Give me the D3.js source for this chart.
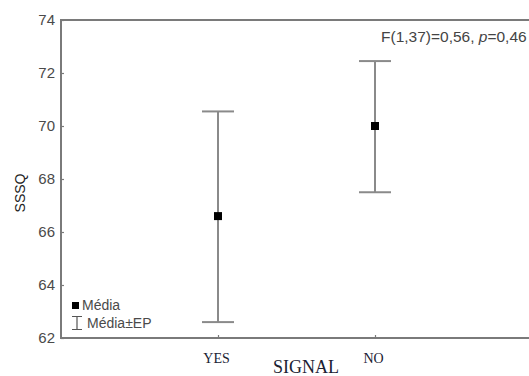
<!DOCTYPE html>
<html><head><meta charset="utf-8">
<script src="https://cdnjs.cloudflare.com/ajax/libs/d3/7.8.5/d3.min.js"></script>
<style>html,body{margin:0;padding:0;background:#fff;overflow:hidden}</style>
</head><body>
<svg id="c" width="529" height="376"></svg>
<script>
const categories = ["YES", "NO"];
const means = [66.6, 70.0];
const upper = [70.55, 72.45];
const lower = [62.6, 67.5];
const yTicks = [62, 64, 66, 68, 70, 72, 74];

const svg = d3.select("#c");
const L = 61, T = 20, R = 532, B = 338;
const x = d3.scalePoint().domain(categories).range([L, R]).padding(1);
const y = d3.scaleLinear().domain([62, 74]).range([B, T]);
const axisColor = "#7a7a7a";

// y axis
const ya = svg.append("g").attr("transform", `translate(${L},0)`)
  .call(d3.axisLeft(y).tickValues(yTicks).tickSize(-3).tickPadding(6).tickFormat(d3.format("d")));
ya.select(".domain").remove();
ya.selectAll(".tick line").attr("stroke", axisColor).attr("stroke-width", 1.2);
ya.selectAll(".tick text").attr("font-family", "Arial, 'Liberation Sans', sans-serif")
  .attr("font-size", 15).attr("fill", "#4a4a4a");

// x axis
const xa = svg.append("g").attr("transform", `translate(0,${B})`)
  .call(d3.axisBottom(x).tickSize(-3).tickPadding(15));
xa.select(".domain").remove();
xa.selectAll(".tick line").attr("stroke", axisColor).attr("stroke-width", 1.2);
xa.selectAll(".tick text").attr("font-family", "'Liberation Serif', 'Times New Roman', serif")
  .attr("font-size", 14).attr("fill", "#1a2233").attr("dx", -2);

// frame (open on the right, it runs past the picture)
svg.append("path").attr("d", `M${R + 40},${T}H${L}V${B}H${R + 40}`)
  .attr("fill", "none").attr("stroke", axisColor).attr("stroke-width", 2);

// error bars
const g = svg.append("g");
categories.forEach((c, i) => {
  const cx = x(c);
  g.append("line").attr("x1", cx).attr("x2", cx).attr("y1", y(upper[i])).attr("y2", y(lower[i]))
    .attr("stroke", "#8a8a8a").attr("stroke-width", 2);
  [upper[i], lower[i]].forEach(v => {
    g.append("line").attr("x1", cx - 16).attr("x2", cx + 16).attr("y1", y(v)).attr("y2", y(v))
      .attr("stroke", "#8a8a8a").attr("stroke-width", 2);
  });
  g.append("rect").attr("x", cx - 4).attr("y", y(means[i]) - 4).attr("width", 8).attr("height", 8)
    .attr("fill", "#000");
});

// annotation
const ann = svg.append("text").attr("x", 381).attr("y", 42)
  .attr("font-family", "Arial, 'Liberation Sans', sans-serif").attr("font-size", 15.5).attr("fill", "#444");
ann.append("tspan").text("F(1,37)=0,56, ");
ann.append("tspan").attr("font-style", "italic").text("p");
ann.append("tspan").text("=0,46");

// legend
svg.append("rect").attr("x", 72).attr("y", 302).attr("width", 7).attr("height", 7).attr("fill", "#000");
svg.append("text").attr("x", 82).attr("y", 310).text("Média")
  .attr("font-family", "Arial, 'Liberation Sans', sans-serif").attr("font-size", 14).attr("fill", "#4a4a4a");
svg.append("path").attr("d", "M72,316.5H82M77,316.5V329.5M72,329.5H82")
  .attr("fill", "none").attr("stroke", "#555").attr("stroke-width", 1.2);
svg.append("text").attr("x", 87).attr("y", 328).text("Média±EP")
  .attr("font-family", "Arial, 'Liberation Sans', sans-serif").attr("font-size", 14).attr("fill", "#4a4a4a");

// axis titles
svg.append("text").attr("x", 306).attr("y", 373).attr("text-anchor", "middle").text("SIGNAL")
  .attr("font-family", "'Liberation Serif', 'Times New Roman', serif").attr("font-size", 18).attr("fill", "#1a2233");
svg.append("text").attr("transform", "translate(25,193) rotate(-90)").attr("text-anchor", "middle").text("SSSQ")
  .attr("font-family", "Arial, 'Liberation Sans', sans-serif").attr("font-size", 14).attr("fill", "#222");
</script>
</body></html>
